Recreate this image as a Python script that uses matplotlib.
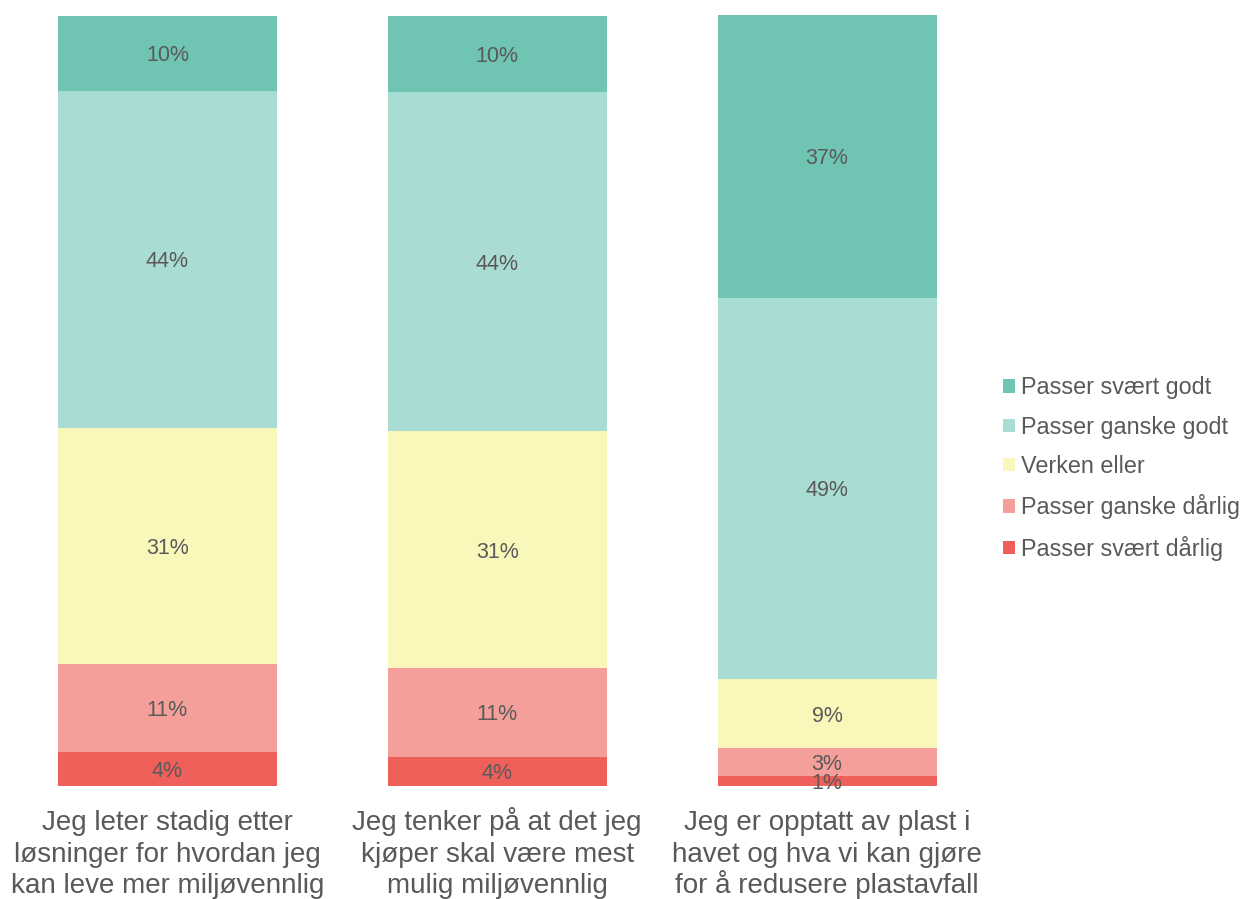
import matplotlib.pyplot as plt
import numpy as np

plt.rcParams['font.family'] = ['Liberation Sans', 'DejaVu Sans']

categories = ["Jeg leter stadig etter\nløsninger for hvordan jeg\nkan leve mer miljøvennlig",
              "Jeg tenker på at det jeg\nkjøper skal være mest\nmulig miljøvennlig",
              "Jeg er opptatt av plast i\nhavet og hva vi kan gjøre\nfor å redusere plastavfall"]
series = ["Passer svært dårlig", "Passer ganske dårlig", "Verken eller",
          "Passer ganske godt", "Passer svært godt"]
# shares in percent, bottom to top
svaert_darlig = [4.4, 3.8, 1.3]
ganske_darlig = [11.4, 11.5, 3.6]
verken = [30.6, 30.7, 9.0]
ganske_godt = [43.8, 44.0, 49.4]
svaert_godt = [9.7, 9.9, 36.7]
labels = [[4, 4, 1], [11, 11, 3], [31, 31, 9], [44, 44, 49], [10, 10, 37]]
colors = ["#F0605A", "#F59F9A", "#FAF7BB", "#A9DCD2", "#70C4B4"]

values = [svaert_darlig, ganske_darlig, verken, ganske_godt, svaert_godt]

fig = plt.figure(figsize=(12.4, 8.99), dpi=100)
ax = fig.add_axes([0.002, 0.1257, 0.798, 0.8576])
x = np.arange(len(categories))
bottom = np.zeros(len(categories))
bars = []
for name, vals, col, lab in zip(series, values, colors, labels):
    b = ax.bar(x, vals, 0.664, bottom=bottom, color=col, label=name)
    bars.append(b)
    for xi, v, bo, l in zip(x, vals, bottom, lab):
        ax.text(xi, bo + v / 2, f"{l}%", ha='center', va='center_baseline',
                fontsize=15.5, color='#595959')
    bottom += np.array(vals)

ax.set_xlim(-0.5, 2.5)
ax.set_ylim(0, 100)
ax.set_xticks([])
ax.set_yticks([])
for s in ax.spines.values():
    s.set_visible(False)

# category labels under the bars, one line at a time so rows line up
line_y = [-0.057, -0.0985, -0.1385]
for xi, cat in zip(x, categories):
    for ly, line in zip(line_y, cat.split("\n")):
        ax.text(xi, ly, line, transform=ax.get_xaxis_transform(), ha='center',
                va='baseline', fontsize=20, color='#595959')

handles = bars[::-1]
fig.legend(handles, series[::-1], loc='center left', bbox_to_anchor=(0.792, 0.479),
           frameon=False, fontsize=16.8, labelcolor='#595959',
           handlelength=0.5, handleheight=0.5, handletextpad=0.25, labelspacing=0.7)

fig.savefig('out.png', dpi=100)
